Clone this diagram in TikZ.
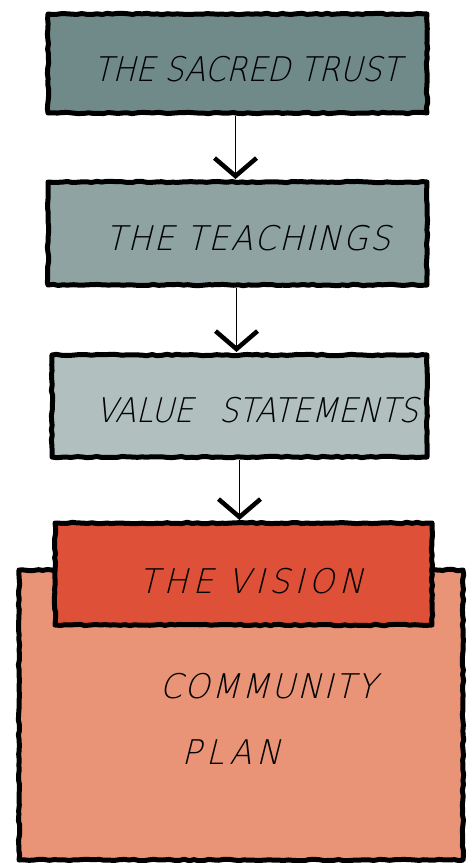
\documentclass[tikz,border=0pt]{standalone}
\usepackage{fontspec}
\newfontfamily\hand{DejaVu Sans ExtraLight}[FakeSlant=0.25,FakeStretch=0.9]
\newfontfamily\handmid{DejaVu Sans ExtraLight}[FakeSlant=0.25,FakeStretch=0.95,LetterSpace=6]
\newfontfamily\handwide{DejaVu Sans ExtraLight}[FakeSlant=0.25,FakeStretch=0.95,LetterSpace=14]
\usetikzlibrary{arrows.meta,decorations.pathmorphing}
\definecolor{cA}{HTML}{6F8A89}
\definecolor{cB}{HTML}{8FA3A3}
\definecolor{cC}{HTML}{B1BFBF}
\definecolor{cV}{HTML}{DE5038}
\definecolor{cP}{HTML}{E99377}
\tikzset{
  sketchbox/.style={draw=black, line width=5pt, line join=round, inner sep=0pt,
    decorate, decoration={random steps, segment length=5pt, amplitude=0.7pt}},
  lbl/.style={inner sep=0pt, font=\hand\fontsize{34}{34}\selectfont, text=black},
  lblmid/.style={inner sep=0pt, font=\handmid\fontsize{34}{34}\selectfont, text=black},
  lblwide/.style={inner sep=0pt, font=\handwide\fontsize{34}{34}\selectfont, text=black},
  conn/.style={line width=1.4pt, -{Straight Barb[length=18pt,width=42pt,line width=4.5pt]}, shorten >=0.5pt}
}
\begin{document}
\begin{tikzpicture}[x=1pt,y=-1pt]
\useasboundingbox (0,0) rectangle (474,863);
\pgfmathsetseed{7}
\node[sketchbox, fill=cP, minimum width=444pt, minimum height=290pt] (plan) at (241,715) {};
\node[sketchbox, fill=cA, minimum width=379pt, minimum height=99pt] (b1) at (237.5,63.5) {};
\node[sketchbox, fill=cB, minimum width=379pt, minimum height=103pt] (b2) at (237.5,233.5) {};
\node[sketchbox, fill=cC, minimum width=375pt, minimum height=102pt] (b3) at (239.5,406) {};
\node[sketchbox, fill=cV, minimum width=377pt, minimum height=102pt] (vis) at (243.5,574) {};
\draw[conn] ([xshift=-2pt]b1.south) -- ([xshift=-2pt]b1.south |- b2.north);
\draw[conn] ([xshift=-1pt]b2.south) -- ([xshift=-1pt]b2.south |- b3.north);
\draw[conn] (b3.south) -- (b3.south |- vis.north);
\node[lbl] (t1) at (247,69) {THE SACRED TRUST};
\node[lblmid] (t2) at (248,238) {THE TEACHINGS};
\node[lbl] (t3) at (257,410) {VALUE\hspace{26pt}STATEMENTS};
\node[lblwide] (t4) at (251,581) {THE VISION};
\node[lblmid] (t5) at (268,686) {COMMUNITY};
\node[lblwide] (t6) at (231,752) {PLAN};
\end{tikzpicture}
\end{document}
